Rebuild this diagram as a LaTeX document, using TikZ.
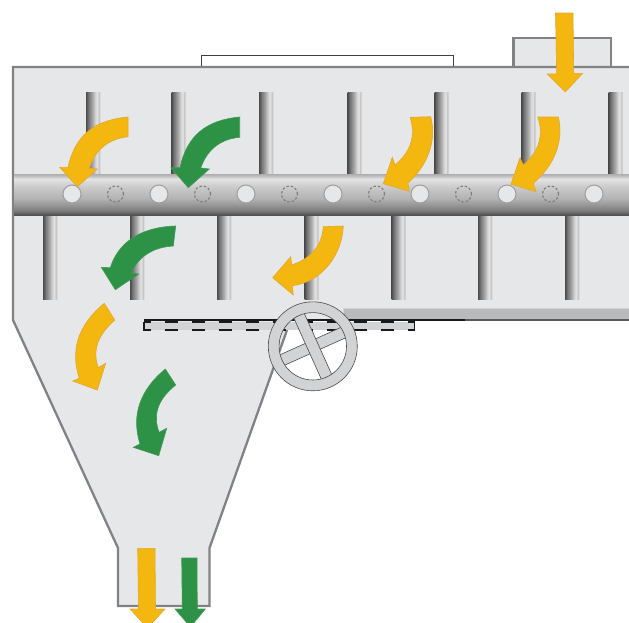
\documentclass[tikz,border=0pt]{standalone}
\definecolor{bodyfill}{HTML}{E6E7E8}
\definecolor{bodyline}{HTML}{808285}
\definecolor{ay}{HTML}{F3B70F}
\definecolor{ayl}{HTML}{E2A72E}
\definecolor{ag}{HTML}{2E9246}
\definecolor{agl}{HTML}{3F9A55}
\definecolor{plate}{HTML}{D1D3D4}
\definecolor{barg}{HTML}{B9BABC}
\pgfdeclarehorizontalshading{rodshade}{100bp}{
 color(0bp)=(black!70);
 color(25bp)=(black!70);
 color(35bp)=(black!52);
 color(47bp)=(black!35);
 color(58bp)=(black!16);
 color(64bp)=(black!11);
 color(69bp)=(black!24);
 color(75bp)=(black!10);
 color(100bp)=(black!10)}
\pgfdeclareverticalshading{barshade}{100bp}{
 color(0bp)=(black!68);
 color(25bp)=(black!68);
 color(31bp)=(black!50);
 color(45bp)=(black!30);
 color(60bp)=(black!20);
 color(69bp)=(black!11);
 color(73bp)=(black!26);
 color(75bp)=(black!32);
 color(100bp)=(black!32)}
\tikzset{
 x=1pt,y=-1pt,
 rodstyle/.style={shading=rodshade,shading angle=0,draw=none},
 flowy/.style={fill=ay,draw=ayl,line width=0.6pt,line join=miter},
 flowg/.style={fill=ag,draw=agl,line width=0.6pt,line join=miter},
 hole/.style={fill=bodyfill,draw=black!38,line width=1pt},
 hiddenhole/.style={draw=black!50,line width=1.2pt,dash pattern=on 2.4pt off 2pt},
 wall/.style={draw=bodyline,line width=2.3pt,line join=miter},
 dashline/.style={draw=black!90,line width=1.3pt,dash pattern=on 13.5pt off 13.5pt,dash phase=6.5pt},
 spoke/.style={fill=plate,draw=black!70,line width=0.6pt}
}
\begin{document}
\begin{tikzpicture}
\useasboundingbox (0,0) rectangle (629,622);
\clip (0,0) rectangle (629,622);
% top boxes
\draw[fill=white,draw=black!75,line width=0.8pt] (201,67) -- (201,55.5) -- (453.5,55.5) -- (453.5,67);
\draw[wall,fill=bodyfill] (513.5,67) -- (513.5,37.7) -- (611,37.7) -- (611,67);
% body
\fill[bodyfill] (13,67) -- (629,67) -- (629,308) -- (343,308) -- (343,320) -- (290.5,320) -- (209.5,548) -- (209.5,606) -- (118,606) -- (118,548) -- (13,320) -- cycle;
\draw[wall] (629,67) -- (13,67) -- (13,320) -- (118,548) -- (118,606) -- (209.5,606) -- (209.5,548) -- (287,330);
% rods
\foreach \xx in {86,171.5,259,347.5,434.5,521.5,608.5}{
  \path[rodstyle] (\xx,92) rectangle ++(14.5,83);}
\foreach \xx in {43,130,217,304.5,391.5,478,565}{
  \path[rodstyle] (\xx,214) rectangle ++(14.5,85);}
% bar
\path[shading=barshade,draw=none] (14,174) rectangle (629,215);
\foreach \xx in {72,159,246,333,420,507,594}{
  \draw[hole] (\xx,194) circle[radius=9pt];}
\foreach \xx in {115.5,202.5,289.5,376.5,463.5,550.5}{
  \draw[hiddenhole] (\xx,194) circle[radius=8pt];}
% side plate
\fill[barg] (343,308.3) rectangle (629,319.5);
\draw[draw=plate,line width=0.8pt] (343,319) -- (343,308.3) -- (629,308.3);
\draw[draw=black!65,line width=2pt] (465,320) -- (629,320);
% damper
\fill[plate] (144,322) rectangle (414.5,330.3);
\draw[draw=black!90,line width=2pt] (144,320) -- (465,320);
\draw[dashline] (144,322) -- (414.5,322);
\draw[dashline] (144,330) -- (414.5,330);
\draw[draw=black!90,line width=1.3pt] (144,321.5) -- (144,330.6);
\draw[draw=black!90,line width=1.3pt] (414.5,321.5) -- (414.5,330.6);
% wheel
\draw[spoke] (346.14,337.56) -- (341.46,327.16) -- (279.46,355.04) -- (284.14,365.44) -- cycle;
\draw[spoke] (304.06,312.96) -- (293.66,317.64) -- (321.54,379.64) -- (331.94,374.96) -- cycle;
\draw[spoke,even odd rule] (312.8,346.3) circle[radius=44.5pt] (312.8,346.3) circle[radius=33.7pt];
% flow arrows
\draw[flowy] (555.5,13) -- (573,13) -- (573.7,73.3) -- (582.7,73.3) -- (565.3,92) -- (547.3,74) -- (556.7,74) -- cycle;
\draw[flowy] (128,117) -- (128,136.7) .. controls (108,139) and (95,150) .. (89.3,168.3) -- (97.3,169) -- (77.3,186.7) -- (59.7,167.3) -- (68,167.3) .. controls (75,135) and (95,120) .. (128,117) -- cycle;
\draw[flowg] (239.7,117) -- (239.7,137.3) .. controls (220,139) and (207,150) .. (200.7,168) -- (209.3,169) -- (188.3,187.7) -- (171,167.7) -- (180,167.7) .. controls (187,135) and (207,120) .. (239.7,117) -- cycle;
\draw[flowg] (175.7,226) -- (173.3,246) .. controls (155,247) and (139,255) .. (131,273.3) -- (138.7,274) -- (115.3,289.7) -- (101.3,267.3) -- (110.3,267.7) .. controls (118,243) and (140,227) .. (175.7,226) -- cycle;
\draw[flowy] (343.3,226) -- (323.3,226.7) .. controls (322,245) and (312,258) .. (291.7,265) -- (290.7,256.7) -- (272.7,277.7) -- (293.3,295) -- (292.3,285.7) .. controls (322,282) and (342,255) .. (343.3,226) -- cycle;
\draw[flowy] (410,117.3) -- (430.7,116.7) .. controls (437,140) and (428,165) .. (408,183) -- (409,191.3) -- (383.3,183.7) -- (392.3,157.3) -- (395,165) .. controls (411,152) and (416,135) .. (410,117.3) -- cycle;
\draw[flowy] (537.7,117) -- (558.3,117) .. controls (564,140) and (555,165) .. (533.3,183.3) -- (536,191.7) -- (511,184.3) -- (520,157.7) -- (523.3,165) .. controls (539,152) and (544,135) .. (537.7,117) -- cycle;
\draw[flowy] (104.3,303.3) -- (114.7,320) .. controls (98,335) and (92,350) .. (98.3,367.7) -- (105.7,363.3) -- (97.3,390) -- (72.7,381) -- (79.3,378.3) .. controls (70,350) and (78,325) .. (104.3,303.3) -- cycle;
\draw[flowg] (165.3,369) -- (175.7,385) .. controls (157,400) and (153,415) .. (159,432.3) -- (166.7,428.3) -- (158.7,455.7) -- (133.3,447.3) -- (140,444) .. controls (131,415) and (140,390) .. (165.3,369) -- cycle;
\draw[flowy] (137.7,548.3) -- (155,548.3) -- (155.5,609) -- (165,609) -- (147.5,628) -- (130,609) -- (138.5,609) -- cycle;
\draw[flowg] (181.7,558) -- (197,558) -- (197.3,609) -- (205.3,609) -- (190.5,627) -- (175,609) -- (182.3,609) -- cycle;
\end{tikzpicture}
\end{document}
